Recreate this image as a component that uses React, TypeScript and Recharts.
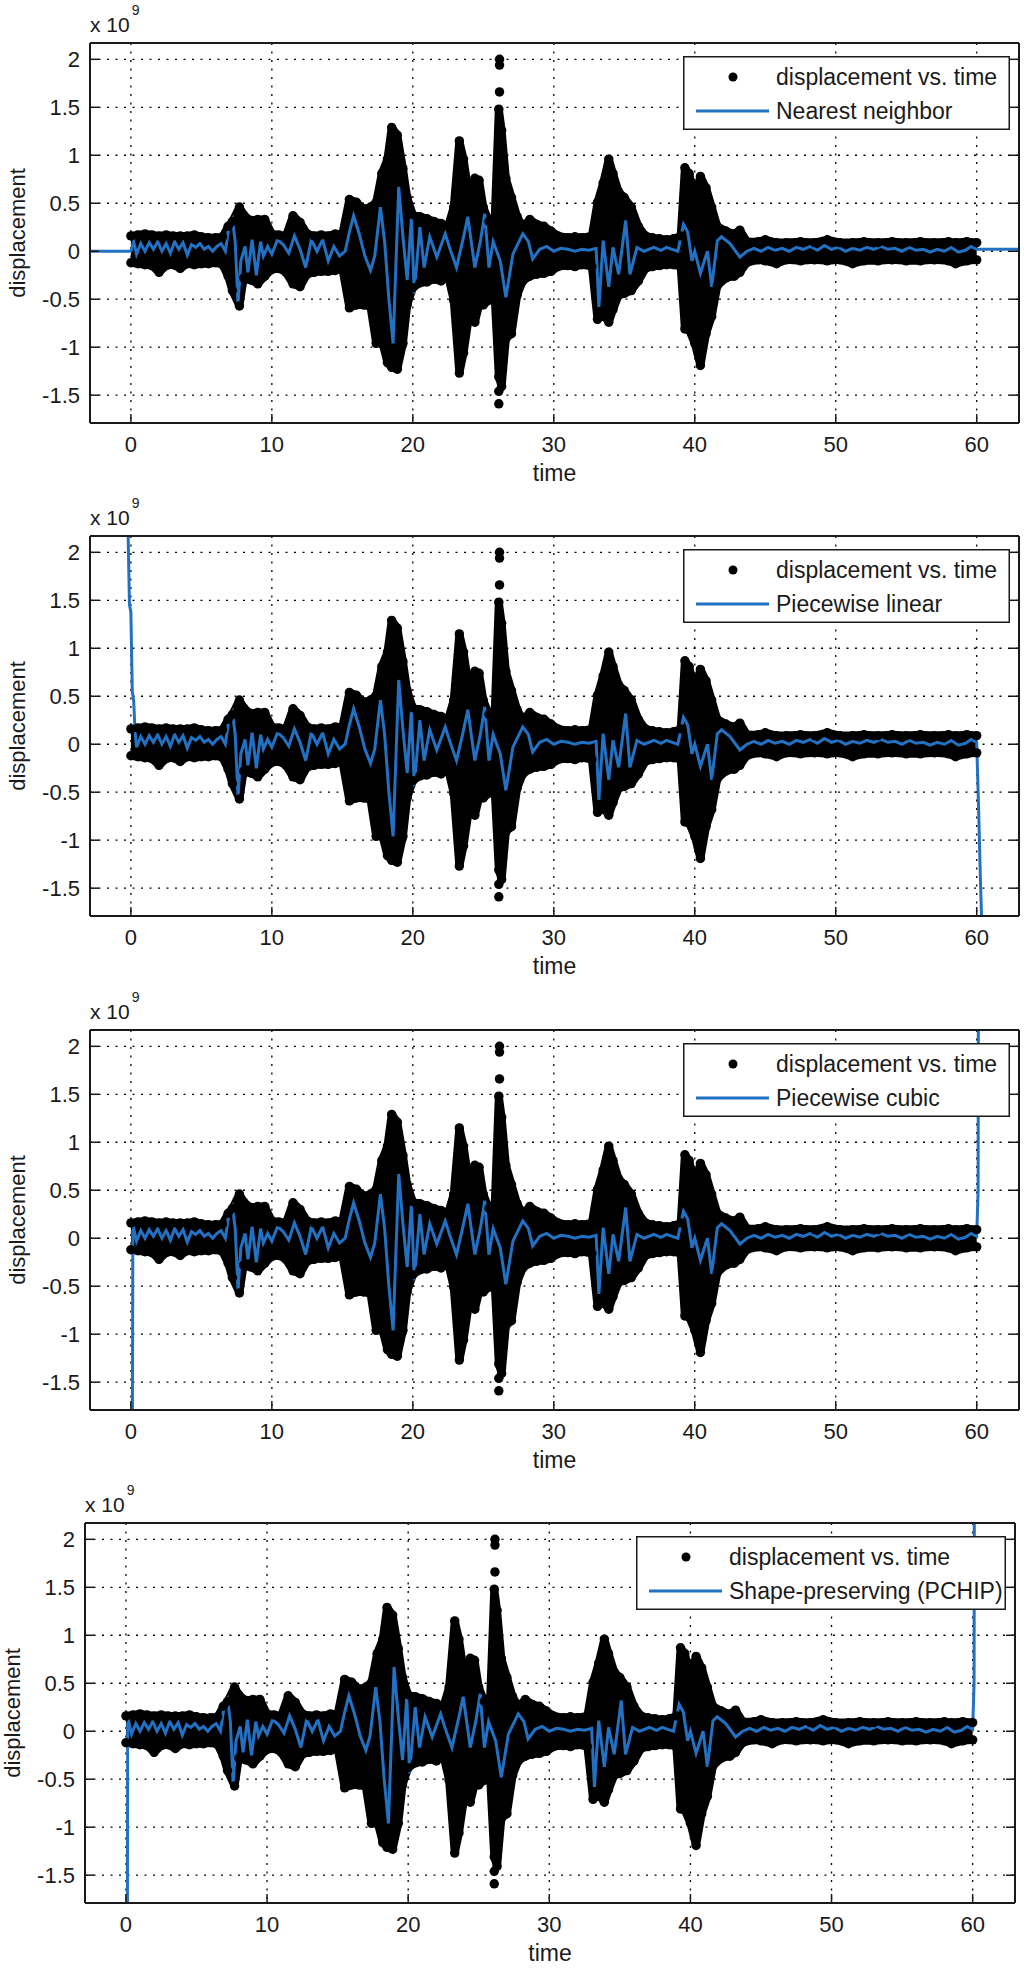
import React from "react";
import {
  Area,
  CartesianGrid,
  ComposedChart,
  Label,
  Legend,
  Line,
  Scatter,
  XAxis,
  YAxis,
  ZAxis,
} from "recharts";

const FONT = '"Liberation Sans", Arial, Helvetica, sans-serif';
const INK = "#1a1a1a";
const FIT_BLUE = "#2271c3";
const TICK_LEN = 9;

const X_TICKS = [0, 10, 20, 30, 40, 50, 60];
const Y_TICKS = [-1.5, -1, -0.5, 0, 0.5, 1, 1.5, 2];
const X_DOMAIN = [-2.9, 63];
const Y_DOMAIN = [-1.79, 2.17];

// displacement samples, units of 1e9 -- upper / lower edge of the marker cloud
const BAND_T = [
  0, 0.5, 1, 1.5, 2, 2.5, 3, 3.5, 4, 4.5, 5, 5.5, 6, 6.5, 6.9, 7.2, 7.7, 8, 8.5, 9,
  9.5, 10, 10.5, 11, 11.5, 12, 12.5, 13, 13.5, 14, 14.5, 15, 15.5, 16, 16.5, 17, 17.4,
  17.8, 18.2, 18.5, 18.9, 19.3, 19.6, 20, 20.5, 21, 21.5, 22, 22.5, 22.9, 23.3, 23.6,
  24, 24.4, 24.7, 25, 25.4, 25.8, 26.1, 26.3, 26.6, 27, 27.4, 27.8, 28.3, 28.8, 29.3,
  29.8, 30.3, 31, 31.5, 32, 32.7, 33.1, 33.5, 33.9, 34.2, 34.6, 35, 35.5, 36, 36.5, 37,
  37.5, 38, 38.5, 39, 39.3, 39.6, 40, 40.4, 40.8, 41.2, 41.6, 42.2, 42.8, 43.2, 43.7,
  44.5, 45, 45.8, 46.5, 47.5, 48.5, 49.4, 50.3, 51.2, 52, 53, 54, 55, 56, 57, 58, 58.5,
  59.3, 60,
];
const BAND_HI = [
  0.16, 0.17, 0.18, 0.17, 0.16, 0.17, 0.16, 0.16, 0.16, 0.17, 0.15, 0.14, 0.14, 0.15,
  0.26, 0.31, 0.46, 0.38, 0.32, 0.33, 0.33, 0.18, 0.17, 0.16, 0.37, 0.3, 0.18, 0.16,
  0.17, 0.16, 0.18, 0.18, 0.54, 0.51, 0.44, 0.46, 0.51, 0.81, 0.96, 1.29, 1.21, 0.86,
  0.56, 0.38, 0.36, 0.34, 0.31, 0.29, 0.26, 0.46, 1.15, 0.96, 0.56, 0.76, 0.74, 0.46,
  0.31, 0.31, 1.48, 1.26, 0.76, 0.56, 0.36, 0.26, 0.33, 0.28, 0.26, 0.21, 0.16, 0.14,
  0.15, 0.14, 0.16, 0.51, 0.71, 0.96, 0.81, 0.62, 0.56, 0.46, 0.26, 0.16, 0.14, 0.13,
  0.12, 0.13, 0.16, 0.87, 0.81, 0.56, 0.78, 0.66, 0.46, 0.26, 0.21, 0.18, 0.22, 0.1,
  0.1, 0.12, 0.09, 0.09, 0.1, 0.09, 0.12, 0.09, 0.09, 0.1, 0.09, 0.1, 0.09, 0.1, 0.09,
  0.1, 0.09, 0.1, 0.09,
];
const BAND_LO = [
  -0.12, -0.13, -0.14, -0.15, -0.22, -0.15, -0.14, -0.18, -0.13, -0.14, -0.13, -0.13,
  -0.12, -0.14, -0.26, -0.41, -0.57, -0.28, -0.3, -0.34, -0.26, -0.19, -0.18, -0.22,
  -0.34, -0.37, -0.24, -0.22, -0.21, -0.21, -0.2, -0.18, -0.59, -0.56, -0.56, -0.58,
  -0.96, -0.93, -1.16, -1.21, -1.23, -0.96, -0.56, -0.38, -0.33, -0.32, -0.29, -0.31,
  -0.26, -0.51, -1.27, -1.06, -0.66, -0.74, -0.56, -0.56, -0.51, -0.46, -1.31, -1.41,
  -0.91, -0.86, -0.46, -0.31, -0.26, -0.24, -0.23, -0.21, -0.16, -0.15, -0.16, -0.14,
  -0.16, -0.71, -0.66, -0.74, -0.61, -0.46, -0.44, -0.41, -0.31, -0.18, -0.16, -0.15,
  -0.14, -0.14, -0.16, -0.81, -0.82, -0.96, -1.19, -0.86, -0.68, -0.36, -0.28, -0.26,
  -0.22, -0.12, -0.09, -0.1, -0.13, -0.09, -0.1, -0.09, -0.1, -0.09, -0.13, -0.1, -0.1,
  -0.09, -0.1, -0.1, -0.09, -0.1, -0.13, -0.1, -0.09,
];
// isolated markers above / below the big spike near t = 26
const STRAY_T = [26.15, 26.15, 26.15, 26.1, 26.1];
const STRAY_V = [2.0, 1.94, 1.66, -1.46, -1.59];

// fitted curve inside the sampled range
const FIT_T = [
  0, 0.2, 0.4, 0.7, 1, 1.3, 1.6, 1.9, 2.2, 2.5, 2.8, 3.1, 3.4, 3.7, 4, 4.3, 4.6, 4.9,
  5.2, 5.5, 5.8, 6.1, 6.4, 6.7, 7, 7.2, 7.4, 7.6, 7.8, 8.1, 8.3, 8.6, 8.9, 9.2, 9.4,
  9.7, 10, 10.4, 10.8, 11.2, 11.6, 12, 12.4, 12.8, 13.2, 13.6, 14, 14.4, 14.8, 15.2,
  15.5, 15.8, 16.2, 16.6, 17, 17.3, 17.7, 18, 18.3, 18.6, 19, 19.3, 19.6, 19.9, 20.1,
  20.5, 20.8, 21.2, 21.7, 22.3, 22.6, 23.1, 23.6, 23.9, 24.4, 24.8, 25.1, 25.4, 25.7,
  26.2, 26.6, 27.1, 27.8, 28.2, 28.5, 29, 29.5, 30, 30.5, 31, 31.5, 32, 32.5, 33, 33.2,
  33.5, 33.9, 34.2, 34.6, 35.1, 35.4, 35.9, 36.4, 37.1, 37.6, 38, 38.4, 38.8, 39.2,
  39.5, 39.8, 40, 40.4, 40.9, 41.2, 41.6, 41.9, 42.5, 43.2, 43.7, 44.2, 44.7, 45.2,
  45.7, 46.2, 46.7, 47.2, 47.7, 48.2, 48.7, 49.2, 49.7, 50.2, 50.7, 51.2, 51.7, 52.2,
  52.7, 53.2, 53.7, 54.2, 54.7, 55.2, 55.7, 56.2, 56.7, 57.2, 57.7, 58.2, 58.7, 59.2,
  59.6, 60,
];
const FIT_V = [
  0, 0.1, -0.03, 0.08, 0, 0.09, 0.02, 0.1, 0, 0.08, -0.02, 0.1, 0.02, 0.09, -0.04, 0.07,
  0.04, 0.08, 0.02, 0.05, 0, 0.05, 0.08, 0, 0.3, 0.34, 0.1, -0.55, -0.1, 0.05, -0.22,
  0.12, -0.25, 0.1, -0.05, 0.05, -0.03, 0.12, 0.07, -0.02, 0.16, 0.02, -0.17, 0.12, 0,
  0.12, -0.1, 0.05, -0.05, 0, 0.2, 0.37, 0.18, -0.05, -0.2, -0.05, 0.46, 0.1, -0.5,
  -0.96, 0.67, 0.15, -0.3, 0.35, -0.44, 0.25, -0.17, 0.15, -0.06, 0.18, 0.04, -0.17,
  0.15, 0.36, -0.17, 0.11, 0.39, -0.17, 0.1, -0.1, -0.48, -0.03, 0.18, 0.1, -0.08, 0.02,
  0.05, 0, 0.03, 0.02, 0, 0.02, 0.01, 0.03, -0.58, 0.11, -0.37, 0.04, -0.24, 0.32,
  -0.24, 0.04, 0, 0.04, 0.01, 0.04, 0.02, 0, 0.28, 0.2, -0.1, 0, -0.23, 0, -0.37, 0.11,
  0.15, 0.08, -0.06, 0, 0.03, 0, 0.04, 0.01, 0.03, 0, 0.04, 0.02, 0.05, 0.01, 0.06,
  0.02, 0.04, 0, 0.03, 0.01, 0.04, 0.02, 0.05, 0.02, 0.03, 0, 0.04, 0.01, 0.02, -0.01,
  0.02, 0, 0.04, -0.01, 0.01, 0.05, 0.02,
];

const FIT_NAMES = [
  "Nearest neighbor",
  "Piecewise linear",
  "Piecewise cubic",
  "Shape-preserving (PCHIP)",
];
// where each fit leaves the sampled range (extrapolated ends)
const FIT_FROM = [0, 0.35, 0.18, 0.18];
const HEAD_T = [[-3, 0], [-0.25, -0.1, 0, 0.1, 0.2, 0.3], [0.1, 0.14], [0.1, 0.12]];
const HEAD_V = [[0, 0], [2.6, 1.45, 1.38, 0.55, 0.45, 0.12], [-2.5, 0.08], [-2.5, 0.08]];
const TAIL_T = [[60.01, 63.5], [60.05, 60.15, 60.27, 60.45], [60.1, 60.12], [60.1, 60.12]];
const TAIL_V = [[0.02, 0.02], [-0.24, -0.76, -1.45, -2.3], [0.5, 2.6], [0.5, 2.6]];

// panel geometry
const PANEL_TOP = [43, 536, 1030, 1523];
const PLOT_LEFT = [90, 90, 90, 85];
const PLOT_RIGHT = [1019, 1019, 1019, 1015];
const LEGEND_W = [327, 327, 327, 370];
const TOP_PAD = 43;
const X_AXIS_H = 65;
const CHART_H = TOP_PAD + 380 + X_AXIS_H;

const bandData = BAND_T.map((t, k) => ({ t, band: [BAND_LO[k], BAND_HI[k]] }));
const sampleData = BAND_T.flatMap((t, k) => [
  { t, v: BAND_HI[k] },
  { t, v: BAND_LO[k] },
]).concat(STRAY_T.map((t, k) => ({ t, v: STRAY_V[k] })));

function fitData(i: number) {
  const head = HEAD_T[i].map((t, k) => ({ t, v: HEAD_V[i][k] }));
  const body = FIT_T.map((t, k) => ({ t, v: FIT_V[k] })).filter((p) => p.t >= FIT_FROM[i]);
  const tail = TAIL_T[i].map((t, k) => ({ t, v: TAIL_V[i][k] }));
  return [...head, ...body, ...tail];
}

const textStyle = { fontFamily: FONT, fill: INK };

function BottomTick({ x, y, payload }: any) {
  return (
    <g>
      <line x1={x} y1={y} x2={x} y2={y - TICK_LEN} stroke={INK} strokeWidth={1.5} />
      <text x={x} y={y + 29} textAnchor="middle" fontSize={22} {...textStyle}>
        {payload.value}
      </text>
    </g>
  );
}

function TopTick({ x, y }: any) {
  return <line x1={x} y1={y} x2={x} y2={y + TICK_LEN} stroke={INK} strokeWidth={1.5} />;
}

function LeftTick({ x, y, payload }: any) {
  return (
    <g>
      <line x1={x} y1={y} x2={x + TICK_LEN} y2={y} stroke={INK} strokeWidth={1.5} />
      <text x={x - 10} y={y + 8} textAnchor="end" fontSize={22} {...textStyle}>
        {String(payload.value)}
      </text>
    </g>
  );
}

function RightTick({ x, y }: any) {
  return <line x1={x} y1={y} x2={x - TICK_LEN} y2={y} stroke={INK} strokeWidth={1.5} />;
}

function FitLegend({ width, name }: { width: number; name: string }) {
  return (
    <svg width={width} height={74} style={{ display: "block" }}>
      <rect x={0.75} y={0.75} width={width - 1.5} height={72.5} fill="#fff" stroke={INK} strokeWidth={1.5} />
      <circle cx={50} cy={21} r={4.5} fill="#000" />
      <text x={93} y={29} fontSize={23} {...textStyle}>
        displacement vs. time
      </text>
      <line x1={13} y1={55} x2={86} y2={55} stroke={FIT_BLUE} strokeWidth={3} />
      <text x={93} y={63} fontSize={23} {...textStyle}>
        {name}
      </text>
    </svg>
  );
}

function Panel({ i }: { i: number }) {
  const left = PLOT_LEFT[i];
  const right = PLOT_RIGHT[i];
  return (
    <div style={{ position: "absolute", left: 0, top: PANEL_TOP[i] - TOP_PAD }}>
      <ComposedChart
        width={1024}
        height={CHART_H}
        margin={{ top: TOP_PAD - 1, right: 1024 - right - 1, bottom: 0, left: 0 }}
      >
        <CartesianGrid stroke="#000" strokeDasharray="2 6.5" strokeWidth={1.3} />
        <XAxis
          dataKey="t"
          type="number"
          domain={X_DOMAIN}
          ticks={X_TICKS}
          interval={0}
          allowDataOverflow
          height={X_AXIS_H}
          tickSize={0}
          tickMargin={0}
          tickLine={false}
          axisLine={{ stroke: INK, strokeWidth: 2 }}
          tick={<BottomTick />}
        >
          <Label
            content={(p: any) => {
              const vb = p.viewBox;
              return (
                <text x={vb.x + vb.width / 2} y={vb.y + 58} textAnchor="middle" fontSize={23} {...textStyle}>
                  time
                </text>
              );
            }}
          />
        </XAxis>
        <XAxis
          xAxisId="top"
          orientation="top"
          type="number"
          domain={X_DOMAIN}
          ticks={X_TICKS}
          interval={0}
          allowDataOverflow
          height={1}
          tickSize={0}
          tickMargin={0}
          tickLine={false}
          axisLine={{ stroke: INK, strokeWidth: 2 }}
          tick={<TopTick />}
        >
          <Label
            content={(p: any) => {
              const vb = p.viewBox;
              return (
                <text x={vb.x} y={vb.y - 10} fontSize={21} {...textStyle}>
                  x 10
                  <tspan dx={2} dy={-17} fontSize={14}>
                    9
                  </tspan>
                </text>
              );
            }}
          />
        </XAxis>
        <YAxis
          type="number"
          domain={Y_DOMAIN}
          ticks={Y_TICKS}
          interval={0}
          allowDataOverflow
          width={left}
          tickSize={0}
          tickMargin={0}
          tickLine={false}
          axisLine={{ stroke: INK, strokeWidth: 2 }}
          tick={<LeftTick />}
        >
          <Label
            content={(p: any) => {
              const vb = p.viewBox;
              const cx = vb.x + vb.width - 65;
              const cy = vb.y + vb.height / 2;
              return (
                <text
                  transform={`translate(${cx},${cy}) rotate(-90)`}
                  textAnchor="middle"
                  fontSize={22}
                  {...textStyle}
                >
                  displacement
                </text>
              );
            }}
          />
        </YAxis>
        <YAxis
          yAxisId="right"
          orientation="right"
          type="number"
          domain={Y_DOMAIN}
          ticks={Y_TICKS}
          interval={0}
          allowDataOverflow
          width={1}
          tickSize={0}
          tickMargin={0}
          tickLine={false}
          axisLine={{ stroke: INK, strokeWidth: 2 }}
          tick={<RightTick />}
        />
        <ZAxis range={[70, 70]} />
        <Area
          data={bandData}
          dataKey="band"
          type="linear"
          fill="#000"
          fillOpacity={1}
          stroke="#000"
          strokeWidth={8}
          strokeLinejoin="round"
          legendType="none"
          isAnimationActive={false}
        />
        <Scatter
          data={sampleData}
          dataKey="v"
          fill="#000"
          name="displacement vs. time"
          isAnimationActive={false}
        />
        <Line
          data={fitData(i)}
          dataKey="v"
          type="linear"
          stroke={FIT_BLUE}
          strokeWidth={3}
          dot={false}
          activeDot={false}
          name={FIT_NAMES[i]}
          isAnimationActive={false}
        />
        <Legend
          layout="horizontal"
          verticalAlign="middle"
          align="center"
          wrapperStyle={{
            left: right - 9 - LEGEND_W[i],
            top: TOP_PAD + 13,
            width: LEGEND_W[i],
            height: 74,
          }}
          content={() => <FitLegend width={LEGEND_W[i]} name={FIT_NAMES[i]} />}
        />
      </ComposedChart>
    </div>
  );
}

export default function App() {
  return (
    <div
      style={{
        position: "absolute",
        left: 0,
        top: 0,
        width: 1024,
        height: 1968,
        overflow: "hidden",
        background: "#fff",
      }}
    >
      {FIT_NAMES.map((_, i) => (
        <Panel key={i} i={i} />
      ))}
    </div>
  );
}
